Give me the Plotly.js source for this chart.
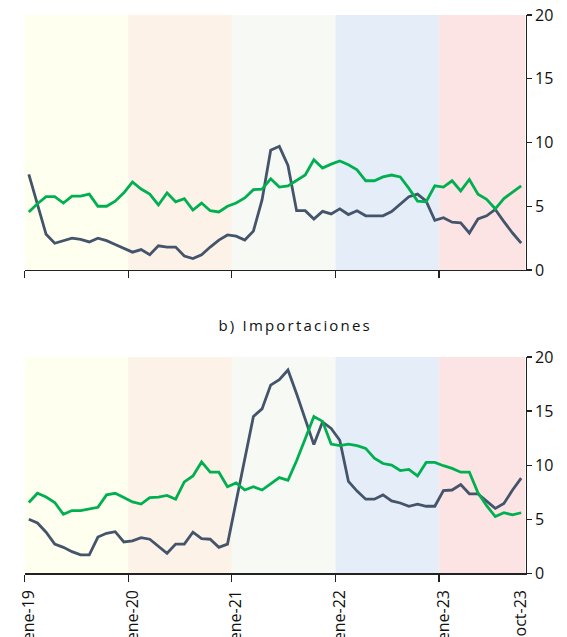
<!DOCTYPE html>
<html>
<head>
<meta charset="utf-8">
<script src="https://cdn.plot.ly/plotly-3.0.1.min.js"></script>
<style>html,body{margin:0;padding:0;background:#fff;}#chart{width:567px;height:637px;}</style>
</head>
<body>
<div id="chart"></div>
<script>
// Months ene-19 .. oct-23
const months = [
  'ene-19','feb-19','mar-19','abr-19','may-19','jun-19','jul-19','ago-19','sep-19','oct-19','nov-19','dic-19',
  'ene-20','feb-20','mar-20','abr-20','may-20','jun-20','jul-20','ago-20','sep-20','oct-20','nov-20','dic-20',
  'ene-21','feb-21','mar-21','abr-21','may-21','jun-21','jul-21','ago-21','sep-21','oct-21','nov-21','dic-21',
  'ene-22','feb-22','mar-22','abr-22','may-22','jun-22','jul-22','ago-22','sep-22','oct-22','nov-22','dic-22',
  'ene-23','feb-23','mar-23','abr-23','may-23','jun-23','jul-23','ago-23','sep-23','oct-23'
];
const tickLabels = ['ene-19','ene-20','ene-21','ene-22','ene-23','oct-23'];
const yearStarts = ['ene-19','ene-20','ene-21','ene-22','ene-23'];
const yearColors = ['#FFFFF0','#FDF2E8','#F6F9F4','#E5EEF8','#FDE4E4'];
const yTicks = [0, 5, 10, 15, 20];

// a) top panel
const expDark = [7.5,5.1,2.8,2.1,2.3,2.5,2.4,2.2,2.5,2.3,2.0,1.7,1.4,1.6,1.2,1.9,1.8,1.8,1.1,0.9,1.2,1.8,2.35,2.75,
  2.65,2.35,3.05,5.5,9.4,9.7,8.2,4.65,4.65,4.0,4.6,4.4,4.8,4.35,4.65,4.25,4.25,4.25,4.58,5.15,5.75,5.95,5.4,3.9,
  4.1,3.75,3.7,2.9,4.0,4.25,4.75,3.8,2.9,2.1];
const expGreen = [4.55,5.2,5.75,5.75,5.25,5.8,5.8,5.95,5.0,5.0,5.4,6.05,6.9,6.35,5.95,5.1,6.05,5.35,5.6,4.7,5.25,4.65,4.55,5.0,
  5.25,5.65,6.3,6.35,7.15,6.5,6.6,7.05,7.45,8.65,8.0,8.3,8.55,8.25,7.85,7.0,7.0,7.3,7.45,7.3,6.4,5.4,5.35,6.6,
  6.5,7.0,6.2,7.1,5.95,5.55,4.8,5.6,6.1,6.6];

// b) Importaciones
const impDark = [5.0,4.65,3.8,2.7,2.4,2.0,1.7,1.7,3.35,3.7,3.85,2.9,3.0,3.3,3.15,2.5,1.85,2.7,2.7,3.8,3.2,3.15,2.4,2.7,
  6.7,10.5,14.5,15.2,17.4,17.9,18.8,16.6,14.2,11.9,14.0,13.4,12.3,8.5,7.6,6.85,6.85,7.25,6.7,6.5,6.2,6.4,6.2,6.2,
  7.65,7.7,8.2,7.35,7.35,6.65,6.0,6.45,7.7,8.8];
const impGreen = [6.55,7.4,7.05,6.55,5.45,5.8,5.8,5.95,6.1,7.25,7.4,7.0,6.6,6.4,7.0,7.05,7.2,6.85,8.45,9.0,10.3,9.35,9.35,8.0,
  8.35,7.7,8.0,7.7,8.3,8.85,8.6,10.4,12.45,14.5,14.05,11.95,11.8,11.95,11.8,11.55,10.65,10.15,10.0,9.5,9.6,9.0,10.25,10.25,
  9.95,9.7,9.35,9.35,7.45,6.25,5.25,5.6,5.4,5.6];

const darkColor = '#44546A';
const greenColor = '#00B050';
const FONT = 'Open Sans, Liberation Sans, sans-serif';

const xIdx = months.map((m, i) => i);
const last = months.length - 1;
const boundaryVals = yearStarts.map(m => months.indexOf(m) - 0.5);
const labelVals = tickLabels.map(m => months.indexOf(m));
const xRange = [-0.5, last + 0.5];

function line(y, color, xa, ya) {
  return {x: xIdx, y: y, type: 'scatter', mode: 'lines', xaxis: xa, yaxis: ya,
    line: {color: color, width: 2.8}, hoverinfo: 'y', showlegend: false};
}

const traces = [
  line(expDark, darkColor, 'x', 'y'),
  line(expGreen, greenColor, 'x', 'y'),
  line(impDark, darkColor, 'x2', 'y2'),
  line(impGreen, greenColor, 'x2', 'y2')
];

const shapes = [];
['x', 'x2'].forEach((xr, k) => {
  const yr = k === 0 ? 'y domain' : 'y2 domain';
  yearStarts.forEach((m, i) => {
    const s = months.indexOf(m) - 0.5;
    const e = i < yearStarts.length - 1 ? months.indexOf(yearStarts[i + 1]) - 0.5 : last + 0.5;
    shapes.push({type: 'rect', xref: xr, yref: yr, x0: s, x1: e, y0: 0, y1: 1,
      fillcolor: yearColors[i], line: {width: 0}, layer: 'below'});
  });
});

const xDom = [24.5 / 567, 525.5 / 567];
const baseX = {
  domain: xDom, range: xRange, showgrid: false, zeroline: false, showline: true, linecolor: '#222', linewidth: 1.3,
  fixedrange: true
};
const baseY = {
  range: [0, 20], side: 'right', showgrid: false, zeroline: false, showline: true, linecolor: '#222', linewidth: 1.3,
  tickmode: 'array', tickvals: yTicks, ticks: 'outside', ticklen: 5, tickwidth: 1.3, tickcolor: '#222',
  tickfont: {family: FONT, size: 16, color: '#111'}, fixedrange: true
};

const layout = {
  width: 567, height: 637,
  margin: {l: 0, r: 0, t: 0, b: 0},
  paper_bgcolor: '#fff', plot_bgcolor: 'rgba(0,0,0,0)',
  font: {family: FONT, color: '#111'},
  showlegend: false,
  xaxis: Object.assign({}, baseX, {
    anchor: 'y', tickmode: 'array', tickvals: boundaryVals, ticks: 'outside', ticklen: 7, tickwidth: 1.3,
    tickcolor: '#222', showticklabels: false
  }),
  yaxis: Object.assign({}, baseY, {domain: [1 - 270 / 637, 1 - 15 / 637], anchor: 'x'}),
  xaxis2: Object.assign({}, baseX, {
    anchor: 'y2', tickmode: 'array', tickvals: labelVals, ticktext: tickLabels, tickangle: -90,
    ticks: 'outside', ticklen: 9, tickwidth: 1, tickcolor: 'rgba(0,0,0,0)',
    tickfont: {family: FONT, size: 16, color: '#111'},
    minor: {tickmode: 'array', tickvals: boundaryVals, ticks: 'outside', ticklen: 7, tickwidth: 1.3,
      tickcolor: '#222', showgrid: false}
  }),
  yaxis2: Object.assign({}, baseY, {domain: [1 - 573.3 / 637, 1 - 357 / 637], anchor: 'x2'}),
  shapes: shapes,
  annotations: [{
    text: 'b) Importaciones', xref: 'paper', yref: 'paper',
    x: 295 / 567, y: 1 - 325 / 637,
    xanchor: 'center', yanchor: 'middle', showarrow: false,
    font: {family: FONT, size: 15, color: '#111'}
  }]
};

Plotly.newPlot('chart', traces, layout, {displayModeBar: false, staticPlot: true}).then(gd => {
  gd.querySelectorAll('.annotation-text').forEach(t => { t.style.letterSpacing = '2.2px'; });
});
</script>
</body>
</html>
